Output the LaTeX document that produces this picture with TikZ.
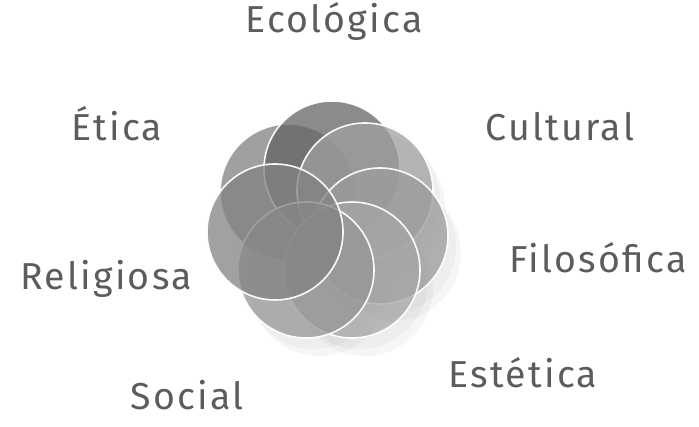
\documentclass[tikz,border=0pt]{standalone}
\usepackage{fontspec}
\setmainfont{Fira Sans}[LetterSpace=6]
\begin{document}
\begin{tikzpicture}[x=1pt,y=-1pt,
  lbl/.style={anchor=base, inner sep=0pt, text=txtgray, font=\fontsize{37.5}{42}\selectfont},
  ring/.style={circle, minimum size=136pt, inner sep=0pt, draw=white, line width=1.6pt, fill opacity=0.75, draw opacity=0.95},
  shadowring/.style={circle, minimum size=136pt, inner sep=0pt, fill=gray, fill opacity=0.07}]
\definecolor{txtgray}{RGB}{92,92,92}
\definecolor{cTop}{RGB}{100,100,100}
\definecolor{cEti}{RGB}{128,128,128}
\definecolor{cCul}{RGB}{160,160,160}
\definecolor{cFil}{RGB}{155,155,155}
\definecolor{cEst}{RGB}{166,166,166}
\definecolor{cSoc}{RGB}{150,150,150}
\definecolor{cRel}{RGB}{130,130,130}
\useasboundingbox (0,0) rectangle (699,427);
% shadows
\node[shadowring] (sCul) at (372,200) {};
\node[shadowring] (sFil) at (388,246) {};
\node[shadowring] (sEst) at (360,281) {};
\node[shadowring] (sSoc) at (314,281) {};
\node[shadowring] (sCul2) at (377,207) {};
\node[shadowring] (sFil2) at (393,253) {};
\node[shadowring] (sEst2) at (365,288) {};
\node[shadowring] (sSoc2) at (319,288) {};
% circles
\node[ring, fill=cEti] (eti) at (288,192) {};
\node[ring, fill=cTop] (top) at (332,169) {};
\node[ring, fill=cCul] (cul) at (365,191) {};
\node[ring, fill=cFil] (fil) at (380,236) {};
\node[ring, fill=cEst] (est) at (352,270) {};
\node[ring, fill=cSoc] (soc) at (306,270) {};
\node[ring, fill=cRel] (rel) at (275,232) {};
% labels
\node[lbl] (lEco) at (334,33) {Ecológica};
\node[lbl] (lEti) at (117,141) {Ética};
\node[lbl] (lCul) at (560,141) {Cultural};
\node[lbl] (lFil) at (598,273) {Filosófica};
\node[lbl] (lRel) at (106,290) {Religiosa};
\node[lbl] (lEst) at (523,388) {Estética};
\node[lbl] (lSoc) at (187,410) {Social};
\end{tikzpicture}
\end{document}
